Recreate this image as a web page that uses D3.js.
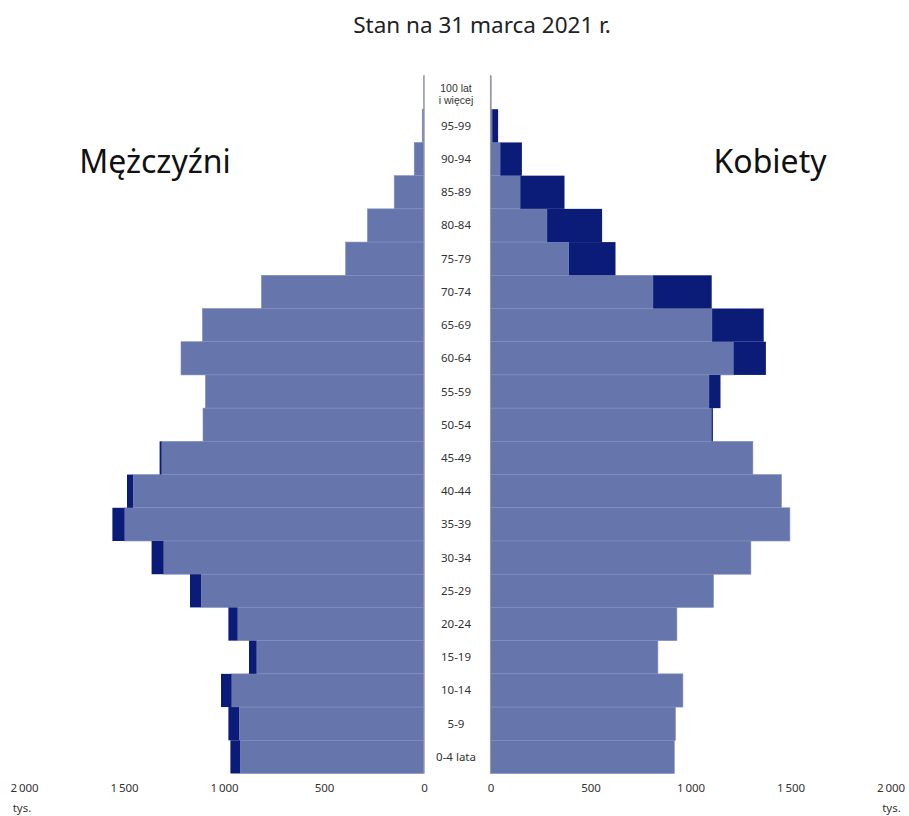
<!DOCTYPE html>
<html><head><meta charset="utf-8">
<script src="https://cdn.jsdelivr.net/npm/d3@7"></script>
<style>body{margin:0;background:#fff}svg{display:block}</style>
</head><body>
<script>
const ageGroups = ["100 lat\ni więcej","95-99","90-94","85-89","80-84","75-79","70-74","65-69","60-64","55-59","50-54","45-49","40-44","35-39","30-34","25-29","20-24","15-19","10-14","5-9","0-4 lata"];
const men   = [1, 9, 49, 149, 283, 392, 813, 1108, 1215, 1093, 1105, 1322, 1485, 1558, 1362, 1170, 978, 875, 1015, 978, 968];
const women = [4, 38, 157, 370, 558, 625, 1106, 1366, 1377, 1150, 1112, 1312, 1455, 1497, 1302, 1115, 932, 837, 962, 925, 919];
const tickValues = [0, 500, 1000, 1500, 2000];
const tickLabels = ["0", "500", "1\u2009000", "1\u2009500", "2\u2009000"];
const title = "Stan na 31 marca 2021 r.";
const leftLabel = "Mężczyźni", rightLabel = "Kobiety", unitLabel = "tys.";

const W = 909, H = 816;
const LIGHT = "#6675ab", DARK = "#0b1c78";
const svg = d3.select("body").append("svg").attr("width", W).attr("height", H);

const xL = d3.scaleLinear().domain([0, 2000]).range([424, 24]);
const xR = d3.scaleLinear().domain([0, 2000]).range([490.5, 890.5]);
const y = d3.scaleBand().domain(ageGroups).range([76, 773.5]).padding(0);

const rows = ageGroups.map((a, i) => ({a, m: men[i], w: women[i], lo: Math.min(men[i], women[i])}));
const FONT = "'Noto Sans', 'Open Sans', sans-serif";

// left bars (men)
const gL = svg.append("g");
gL.selectAll("rect.l").data(rows).join("rect")
  .attr("x", d => xL(d.lo)).attr("width", d => xL(0) - xL(d.lo))
  .attr("y", d => y(d.a)).attr("height", y.bandwidth())
  .attr("fill", LIGHT).attr("stroke", "#8290c0").attr("stroke-width", 0.6);
gL.selectAll("rect.d").data(rows.filter(d => d.m > d.w)).join("rect")
  .attr("x", d => xL(d.m)).attr("width", d => xL(d.w) - xL(d.m))
  .attr("y", d => y(d.a)).attr("height", y.bandwidth())
  .attr("fill", DARK);

// right bars (women)
const gR = svg.append("g");
gR.selectAll("rect.l").data(rows).join("rect")
  .attr("x", xR(0)).attr("width", d => xR(d.lo) - xR(0))
  .attr("y", d => y(d.a)).attr("height", y.bandwidth())
  .attr("fill", LIGHT).attr("stroke", "#8290c0").attr("stroke-width", 0.6);
gR.selectAll("rect.d").data(rows.filter(d => d.w > d.m)).join("rect")
  .attr("x", d => xR(d.m)).attr("width", d => xR(d.w) - xR(d.m))
  .attr("y", d => y(d.a)).attr("height", y.bandwidth())
  .attr("fill", DARK);

// center axis lines
[xL(0), xR(0)].forEach(x => {
  svg.append("line").attr("x1", x).attr("x2", x).attr("y1", 75).attr("y2", 773.5)
    .attr("stroke", "#9a9a9a").attr("stroke-width", 1.2);
});

// age labels
const cx = 456;
const lab = svg.append("g").attr("font-family", FONT).attr("font-size", 11.5).attr("fill", "#333").attr("text-anchor", "middle");
rows.forEach(d => {
  const parts = d.a.split("\n");
  const cy = y(d.a) + y.bandwidth() / 2;
  if (parts.length === 1) {
    lab.append("text").attr("x", cx).attr("y", cy).attr("dy", "0.35em").text(parts[0]);
  } else {
    lab.append("text").attr("x", cx).attr("y", cy - 4.5).attr("dy", "0.35em")
      .attr("font-family", "'Liberation Sans', sans-serif").attr("font-size", 10.5).text(parts[0]);
    lab.append("text").attr("x", cx).attr("y", cy + 7.5).attr("dy", "0.35em")
      .attr("font-family", "'Liberation Sans', sans-serif").attr("font-size", 10.5).text(parts[1]);
  }
});

// x axes
const axL = d3.axisBottom(xL).tickValues(tickValues).tickSize(0).tickFormat((d, i) => tickLabels[i]);
const axR = d3.axisBottom(xR).tickValues(tickValues).tickSize(0).tickFormat((d, i) => tickLabels[i]);
[axL, axR].forEach(ax => {
  const g = svg.append("g").attr("transform", "translate(0,781)").call(ax);
  g.select(".domain").remove();
  g.selectAll("text").attr("font-family", FONT).attr("font-size", 11.5).attr("fill", "#333").attr("dy", "0.35em").attr("y", 7);
});
svg.append("text").attr("x", xL(2000) - 2).attr("y", 808).attr("dy", "0.35em").attr("text-anchor", "middle")
  .attr("font-family", FONT).attr("font-size", 11.5).attr("fill", "#333").text(unitLabel);
svg.append("text").attr("x", xR(2000) + 1).attr("y", 808).attr("dy", "0.35em").attr("text-anchor", "middle")
  .attr("font-family", FONT).attr("font-size", 11.5).attr("fill", "#333").text(unitLabel);

// titles
svg.append("text").attr("x", 482).attr("y", 25).attr("dy", "0.35em").attr("text-anchor", "middle")
  .attr("font-family", FONT).attr("font-size", 22.5).attr("fill", "#222").text(title);
svg.append("text").attr("x", 155).attr("y", 162).attr("dy", "0.35em").attr("text-anchor", "middle")
  .attr("font-family", FONT).attr("font-size", 32).attr("fill", "#111").text(leftLabel);
svg.append("text").attr("x", 770).attr("y", 162).attr("dy", "0.35em").attr("text-anchor", "middle")
  .attr("font-family", FONT).attr("font-size", 32).attr("fill", "#111").text(rightLabel);
</script>
</body></html>
